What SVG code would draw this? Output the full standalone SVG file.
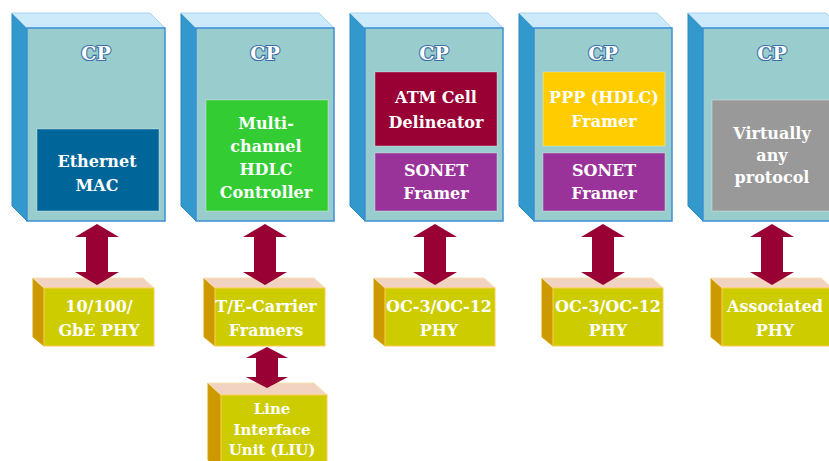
<svg xmlns="http://www.w3.org/2000/svg" xmlns:xlink="http://www.w3.org/1999/xlink" width="829" height="461" viewBox="0 0 829 461">
<style>
.side{fill:#3399cc;stroke:#2a88c0;stroke-width:1}
.top{fill:#cdeafa;stroke:#a8d2ee;stroke-width:1}
.front{fill:#99cccc;stroke:#3d8fd6;stroke-width:1.5}
.cp{font-family:"DejaVu Serif","Liberation Serif",serif;font-weight:bold;font-size:19px;fill:#ffffff;stroke:#3a6fa8;stroke-width:2.2px;paint-order:stroke;text-anchor:middle}
.t{font-family:"DejaVu Serif","Liberation Serif",serif;font-weight:bold;font-size:16px;fill:#ffffff;text-anchor:middle}
.inner{stroke:rgba(255,255,255,0.35);stroke-width:1}
.pside{fill:#cc9900;stroke:#d9a400;stroke-width:1}
.ptop{fill:#f2d3c2;stroke:#f7e0b0;stroke-width:1}
.pfront{fill:#cccc00;stroke:#ffcc55;stroke-width:1}
.arr{fill:#990033}
</style>
<defs>
<g id="cpShell">
<polygon class="side" points="-15,13 0,28 0,221 -15,206"/>
<polygon class="top" points="-15,13 123,13 138,28 0,28"/>
<rect class="front" x="0" y="28" width="138" height="193"/>
<text class="cp" x="69" y="60">CP</text>
</g>
<g id="phyShell">
<polygon class="pside" points="-11,278 0,288 0,346 -11,337"/>
<polygon class="ptop" points="-11,278 99,278 110,288 0,288"/>
<rect class="pfront" x="0" y="288" width="110" height="58"/>
</g>
</defs>

<g id="cp1">
<use xlink:href="#cpShell" href="#cpShell" transform="translate(27,0)"/>
<rect class="inner" x="37" y="129" width="122" height="82" fill="#006699"/>
<text class="t" x="97" y="167">Ethernet</text>
<text class="t" x="97" y="191">MAC</text>
</g>

<g id="cp2">
<use xlink:href="#cpShell" href="#cpShell" transform="translate(196,0)"/>
<rect class="inner" x="206" y="100" width="122" height="111" fill="#33cc33"/>
<text class="t" x="266" y="129">Multi-</text>
<text class="t" x="266" y="152">channel</text>
<text class="t" x="266" y="175">HDLC</text>
<text class="t" x="266" y="198">Controller</text>
</g>

<g id="cp3">
<use xlink:href="#cpShell" href="#cpShell" transform="translate(365,0)"/>
<rect class="inner" x="375" y="72" width="122" height="74" fill="#990033"/>
<text class="t" x="436" y="103">ATM Cell</text>
<text class="t" x="436" y="128">Delineator</text>
<rect class="inner" x="375" y="153" width="122" height="58" fill="#993399"/>
<text class="t" x="436" y="176">SONET</text>
<text class="t" x="436" y="199">Framer</text>
</g>

<g id="cp4">
<use xlink:href="#cpShell" href="#cpShell" transform="translate(534,0)"/>
<rect class="inner" x="543" y="72" width="122" height="74" fill="#ffcc00"/>
<text class="t" x="604" y="103">PPP (HDLC)</text>
<text class="t" x="604" y="127">Framer</text>
<rect class="inner" x="543" y="153" width="122" height="58" fill="#993399"/>
<text class="t" x="604" y="176">SONET</text>
<text class="t" x="604" y="199">Framer</text>
</g>

<g id="cp5">
<use xlink:href="#cpShell" href="#cpShell" transform="translate(703,0)"/>
<rect class="inner" x="712" y="100" width="122" height="111" fill="#999999"/>
<text class="t" x="772" y="139">Virtually</text>
<text class="t" x="772" y="161">any</text>
<text class="t" x="772" y="183">protocol</text>
</g>

<g id="phy1">
<use xlink:href="#phyShell" href="#phyShell" transform="translate(44,0)"/>
<text class="t" x="99" y="312">10/100/</text>
<text class="t" x="99" y="336">GbE PHY</text>
</g>

<g id="phy2">
<use xlink:href="#phyShell" href="#phyShell" transform="translate(215,0)"/>
<text class="t" x="266" y="312">T/E-Carrier</text>
<text class="t" x="266" y="336">Framers</text>
</g>

<g id="phy3">
<use xlink:href="#phyShell" href="#phyShell" transform="translate(385,0)"/>
<text class="t" x="439" y="312">OC-3/OC-12</text>
<text class="t" x="439" y="336">PHY</text>
</g>

<g id="phy4">
<use xlink:href="#phyShell" href="#phyShell" transform="translate(553,0)"/>
<text class="t" x="608" y="312">OC-3/OC-12</text>
<text class="t" x="608" y="336">PHY</text>
</g>

<g id="phy5">
<use xlink:href="#phyShell" href="#phyShell" transform="translate(722,0)"/>
<text class="t" x="775" y="312">Associated</text>
<text class="t" x="775" y="336">PHY</text>
</g>

<g id="liu">
<polygon class="pside" points="208,383 221,395 221,470 208,460"/>
<polygon class="ptop" points="208,383 314,383 327,395 221,395"/>
<rect class="pfront" x="221" y="395" width="106" height="75"/>
<text class="t" x="272" y="414" style="font-size:15px">Line</text>
<text class="t" x="272" y="435" style="font-size:15px">Interface</text>
<text class="t" x="272" y="455" style="font-size:15px">Unit (LIU)</text>
</g>

<g id="connectors">
<path class="arr" d="M97,224 L119,237 L108,237 L108,272 L119,272 L97,285 L75,272 L86,272 L86,237 L75,237 Z"/>
<path class="arr" d="M265,224 L287,237 L276,237 L276,272 L287,272 L265,285 L243,272 L254,272 L254,237 L243,237 Z"/>
<path class="arr" d="M435,224 L457,237 L446,237 L446,272 L457,272 L435,285 L413,272 L424,272 L424,237 L413,237 Z"/>
<path class="arr" d="M603,224 L625,237 L614,237 L614,272 L625,272 L603,285 L581,272 L592,272 L592,237 L581,237 Z"/>
<path class="arr" d="M772,224 L794,237 L783,237 L783,272 L794,272 L772,285 L750,272 L761,272 L761,237 L750,237 Z"/>
<path class="arr" d="M267,347 L288,358 L278,358 L278,377 L288,377 L267,388 L246,377 L256,377 L256,358 L246,358 Z"/>
</g>
</svg>
